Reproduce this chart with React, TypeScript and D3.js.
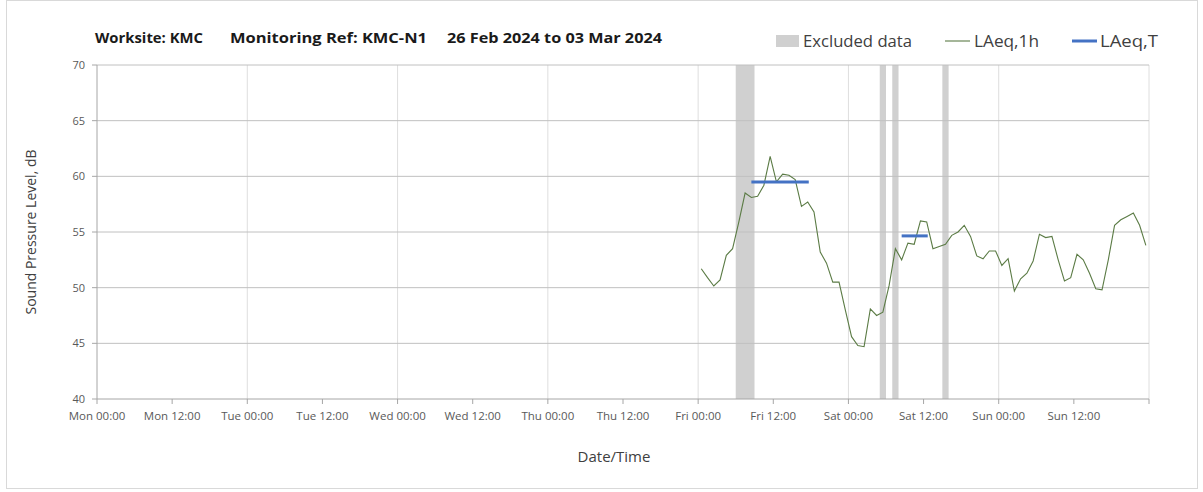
import React from "react";
import * as d3 from "d3";

// hourly LAeq,1h readings, first one at Fri 00:30 (plotted at the hour midpoint)
const laeq1h = [
  51.7, 50.9, 50.15, 50.7, 52.9, 53.5, 55.9, 58.5, 58.1, 58.2, 59.2, 61.8,
  59.5, 60.2, 60.1, 59.7, 57.3, 57.7, 56.8, 53.2, 52.2, 50.5, 50.5, 48.0,
  45.6, 44.8, 44.7, 48.1, 47.5, 47.8, 50.2, 53.5, 52.5, 54.0, 53.9, 56.0,
  55.9, 53.5, 53.7, 53.9, 54.7, 55.0, 55.6, 54.6, 52.85, 52.6, 53.3, 53.3,
  52.0, 52.6, 49.7, 50.8, 51.3, 52.4, 54.8, 54.5, 54.6, 52.5, 50.6, 50.9,
  53.0, 52.5, 51.3, 49.9, 49.8, 52.5, 55.6, 56.1, 56.4, 56.7, 55.6, 53.8,
];
const firstReading = Date.UTC(2024, 2, 1, 0, 30); // Fri 01 Mar 00:30

// excluded periods [start, end]
const excluded = [
  [Date.UTC(2024, 2, 1, 6), Date.UTC(2024, 2, 1, 9)],
  [Date.UTC(2024, 2, 2, 5), Date.UTC(2024, 2, 2, 6)],
  [Date.UTC(2024, 2, 2, 7), Date.UTC(2024, 2, 2, 8)],
  [Date.UTC(2024, 2, 2, 15), Date.UTC(2024, 2, 2, 16)],
];

// LAeq,T over each assessment period
const laeqT = [
  { from: Date.UTC(2024, 2, 1, 8, 30), to: Date.UTC(2024, 2, 1, 17, 40), value: 59.5 },
  { from: Date.UTC(2024, 2, 2, 8, 30), to: Date.UTC(2024, 2, 2, 12, 40), value: 54.65 },
];

const yTicks = [40, 45, 50, 55, 60, 65, 70];
const weekStart = Date.UTC(2024, 1, 26);
const weekEnd = Date.UTC(2024, 2, 4);

const W = 1203;
const H = 492;
const margin = { top: 65, right: 54, bottom: 93, left: 97 };
const font = "'Open Sans', 'Noto Sans', sans-serif";

export default function App() {
  const x = d3
    .scaleUtc()
    .domain([new Date(weekStart), new Date(weekEnd)])
    .range([margin.left, W - margin.right]);
  const y = d3.scaleLinear().domain([40, 70]).range([H - margin.bottom, margin.top]);

  const hour = 3600 * 1000;
  const pts = laeq1h.map((v, i) => [firstReading + i * hour, v]);
  const line = d3
    .line<number[]>()
    .x((d) => x(new Date(d[0])))
    .y((d) => y(d[1]));

  const halfDays = d3.utcHour.every(12)!.range(new Date(weekStart), new Date(weekEnd + 1));
  const days = d3.utcDay.range(new Date(weekStart), new Date(weekEnd + 1));
  const fmt = d3.utcFormat("%a %H:%M");
  const bottom = y(40);
  const top = y(70);

  return (
    <svg width={W} height={H} style={{ position: "absolute", left: 0, top: 0 }} fontFamily={font}>
      <rect x={0} y={0} width={W} height={H} fill="#fff" />
      <rect x={6.5} y={0.5} width={1191} height={488} fill="none" stroke="#d9d9d9" />

      {/* excluded bars */}
      {excluded.map((e, i) => (
        <rect key={i} x={x(new Date(e[0]))} y={top} width={x(new Date(e[1])) - x(new Date(e[0]))}
          height={bottom - top} fill="#d0d0d0" />
      ))}

      {/* grid */}
      {days.slice(1).map((d, i) => (
        <line key={i} x1={x(d)} x2={x(d)} y1={top} y2={bottom} stroke="#dedede" />
      ))}
      {yTicks.slice(1).map((t) => (
        <line key={t} x1={margin.left} x2={W - margin.right} y1={y(t)} y2={y(t)} stroke="#c0c0c0" />
      ))}

      {/* axes */}
      <line x1={margin.left} x2={margin.left} y1={top} y2={bottom} stroke="#a6a6a6" />
      <line x1={margin.left} x2={W - margin.right} y1={bottom} y2={bottom} stroke="#a6a6a6" />
      {yTicks.map((t) => (
        <g key={t}>
          <line x1={margin.left - 5} x2={margin.left} y1={y(t)} y2={y(t)} stroke="#a6a6a6" />
          <text x={margin.left - 12} y={y(t)} dy="0.35em" textAnchor="end" fontSize={11} fill="#595959">
            {t}
          </text>
        </g>
      ))}
      {halfDays.map((d, i) => (
        <g key={i}>
          <line x1={x(d)} x2={x(d)} y1={bottom} y2={bottom + 5} stroke="#a6a6a6" />
          {i < halfDays.length - 1 && (
            <text x={x(d)} y={bottom + 21} textAnchor="middle" fontSize={11.5} fill="#595959">
              {fmt(d)}
            </text>
          )}
        </g>
      ))}

      {/* series */}
      <path d={line(pts) || ""} fill="none" stroke="#5b7b45" strokeWidth={1.1} />
      {laeqT.map((p, i) => (
        <line key={i} x1={x(new Date(p.from))} x2={x(new Date(p.to))} y1={y(p.value)} y2={y(p.value)}
          stroke="#4472c4" strokeWidth={3} />
      ))}

      {/* titles */}
      <text x={36} y={232} transform="rotate(-90 36 232)" textAnchor="middle" fontSize={14} fill="#404040">
        Sound Pressure Level, dB
      </text>
      <text x={614} y={462} textAnchor="middle" fontSize={15} fill="#404040">Date/Time</text>
      <g fontSize={15} fontWeight="bold" fill="#1a1a1a">
        <text x={95} y={43} textLength={108} lengthAdjust="spacingAndGlyphs">Worksite: KMC</text>
        <text x={230} y={43} textLength={197} lengthAdjust="spacingAndGlyphs">Monitoring Ref: KMC-N1</text>
        <text x={447} y={43} textLength={215} lengthAdjust="spacingAndGlyphs">26 Feb 2024 to 03 Mar 2024</text>
      </g>

      {/* legend */}
      <g fontSize={16} fill="#404040">
        <rect x={776} y={35} width={23} height={12} fill="#d0d0d0" />
        <text x={803} y={47} textLength={109} lengthAdjust="spacingAndGlyphs">Excluded data</text>
        <line x1={945} x2={970} y1={41} y2={41} stroke="#5b7b45" strokeWidth={1.1} />
        <text x={974} y={47} textLength={65} lengthAdjust="spacingAndGlyphs">LAeq,1h</text>
        <line x1={1072} x2={1097} y1={41} y2={41} stroke="#4472c4" strokeWidth={3} />
        <text x={1100} y={47} textLength={58} lengthAdjust="spacingAndGlyphs">LAeq,T</text>
      </g>
    </svg>
  );
}
